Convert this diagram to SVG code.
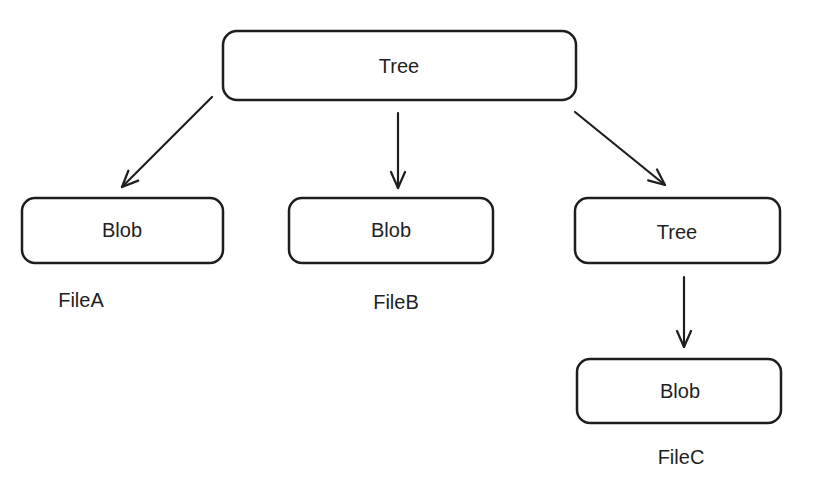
<svg xmlns="http://www.w3.org/2000/svg" width="823" height="488" viewBox="0 0 823 488">
<defs>
<style>
.box{fill:none;stroke:#1e1e1e;stroke-width:2.5}
.lbl{font-family:"Liberation Sans",Arial,sans-serif;font-size:20px;fill:#1e1e1e;text-anchor:middle;dominant-baseline:central}
.edge{fill:none;stroke:#1e1e1e;stroke-width:2.2;stroke-linecap:round}
</style>
<marker id="arr" viewBox="0 0 20 20" refX="18" refY="10" markerWidth="20" markerHeight="20" markerUnits="userSpaceOnUse" orient="auto">
<path d="M2,3 L18,10 L2,17" fill="none" stroke="#1e1e1e" stroke-width="2.2" stroke-linecap="round" stroke-linejoin="round"/>
</marker>
</defs>
<rect width="823" height="488" fill="#ffffff"/>
<g id="tree-root"><rect class="box" x="223" y="31" width="353" height="69" rx="14"/><text class="lbl" x="399" y="66">Tree</text></g>
<g id="blob-a"><rect class="box" x="22" y="198" width="201" height="65" rx="13"/><text class="lbl" x="122" y="230">Blob</text><text class="lbl" x="81" y="300">FileA</text></g>
<g id="blob-b"><rect class="box" x="289" y="198" width="204" height="65" rx="13"/><text class="lbl" x="391" y="230">Blob</text><text class="lbl" x="396" y="302">FileB</text></g>
<g id="tree-sub"><rect class="box" x="575" y="198" width="205" height="65" rx="13"/><text class="lbl" x="677" y="232">Tree</text></g>
<g id="blob-c"><rect class="box" x="577" y="359" width="204" height="64" rx="13"/><text class="lbl" x="680" y="391">Blob</text><text class="lbl" x="681" y="457">FileC</text></g>
<g id="connectors">
<path class="edge" d="M212,97 L122,187" marker-end="url(#arr)"/>
<path class="edge" d="M398,113 L398,188" marker-end="url(#arr)"/>
<path class="edge" d="M575,112 L665,185" marker-end="url(#arr)"/>
<path class="edge" d="M684,277 L684,347" marker-end="url(#arr)"/>
</g>
</svg>
